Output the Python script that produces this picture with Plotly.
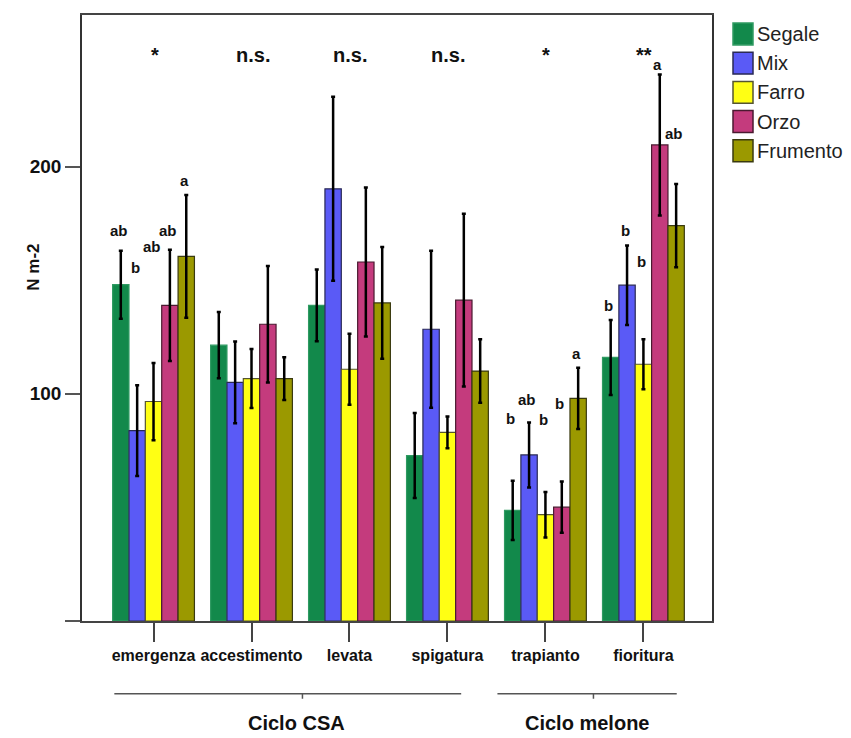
import plotly.graph_objects as go

categories = ["emergenza", "accestimento", "levata", "spigatura", "trapianto", "fioritura"]
series = ["Segale", "Mix", "Farro", "Orzo", "Frumento"]

segale = [148, 121.4, 138.9, 72.8, 48.7, 116]
mix = [83.8, 105, 190.2, 128.4, 73.1, 147.8]
farro = [96.6, 106.7, 110.8, 83, 46.8, 113]
orzo = [138.9, 130.6, 158, 141.2, 50.1, 209.5]
frumento = [160.5, 106.7, 140, 110, 98, 174]

segale_err = [15, 14.6, 15.8, 18.7, 13, 16.5]
mix_err = [20, 18, 40.5, 34.6, 14.3, 17.5]
farro_err = [17, 13, 15.6, 7, 10, 11]
orzo_err = [24.5, 25.6, 32.8, 38, 11.3, 31]
frumento_err = [27, 9.4, 24.6, 14, 13.5, 18.3]

significance = ["*", "n.s.", "n.s.", "n.s.", "*", "**"]

# letters per series for each category ("" = none)
letters = {
    "Segale":   ["ab", "", "", "", "b", "b"],
    "Mix":      ["b", "", "", "", "ab", "b"],
    "Farro":    ["ab", "", "", "", "b", "b"],
    "Orzo":     ["ab", "", "", "", "b", "a"],
    "Frumento": ["a", "", "", "", "a", "ab"],
}
# vertical placement of the letters (value units)
letter_y = {
    "Segale":   [172, 0, 0, 0, 89.3, 139],
    "Mix":      [155.7, 0, 0, 0, 97.4, 172],
    "Farro":    [165, 0, 0, 0, 88.9, 158],
    "Orzo":     [172, 0, 0, 0, 95.7, 245],
    "Frumento": [194, 0, 0, 0, 117.7, 214.6],
}

values = [segale, mix, farro, orzo, frumento]
errors = [segale_err, mix_err, farro_err, orzo_err, frumento_err]
colors = ["#12894b", "#5a5af6", "#ffff14", "#c43b7d", "#9b9900"]
edge = ["#2f9a62", "#2a2a55", "#555530", "#4a1a30", "#3a3a10"]

FONT = "Liberation Sans, Arial, sans-serif"
xs = list(range(len(categories)))

# page has an 8px body margin; figure geometry compensates for it
PAGE_OFF = 8
plot_left, plot_right, plot_top, plot_bottom = 82, 712, 13, 621
fig_w, fig_h = 851 - PAGE_OFF, 738 - PAGE_OFF
plot_w = plot_right - plot_left
plot_h = plot_bottom - plot_top

fig = go.Figure()
for name, v, e, c, ec in zip(series, values, errors, colors, edge):
    fig.add_trace(go.Bar(
        x=xs, y=v, name=name, showlegend=False,
        marker=dict(color=c, line=dict(color=ec, width=1.2)),
        error_y=dict(type="data", array=e, visible=True, color="black",
                     thickness=2.5, width=2),
    ))

bargap = 0.165
bw = (1 - bargap) / len(series)
annotations = []
for i, s in enumerate(significance):
    annotations.append(dict(x=xs[i], y=249, xref="x", yref="y", text="<b>%s</b>" % s,
                            showarrow=False, font=dict(family=FONT, size=20, color="#111"),
                            xshift=1))
for si, name in enumerate(series):
    for ci in range(len(categories)):
        t = letters[name][ci]
        if t:
            annotations.append(dict(
                x=xs[ci] + (si - 2) * bw, y=letter_y[name][ci], xref="x", yref="y",
                text="<b>%s</b>" % t, showarrow=False, xshift=-2,
                font=dict(family=FONT, size=15, color="#111")))

# y-axis title
annotations.append(dict(x=(22 - plot_left) / plot_w, y=(plot_bottom - 266) / plot_h,
                        xref="paper", yref="paper", text="<b>N m-2</b>",
                        textangle=-90, showarrow=False, yanchor="middle",
                        font=dict(family=FONT, size=17, color="#111")))

# group labels under the axis: (name, line start, line end, tick/label position)
groups = [("Ciclo CSA", -0.40, 3.14, 1.52), ("Ciclo melone", 3.51, 5.34, 4.49)]
shapes = []
line_y = (plot_bottom - 694) / plot_h
tick_y = (plot_bottom - 699) / plot_h
text_y = (plot_bottom - 723) / plot_h
for gname, g0, g1, gm in groups:
    shapes.append(dict(type="line", xref="x", yref="paper", x0=g0, x1=g1,
                       y0=line_y, y1=line_y, line=dict(color="#555", width=1.5)))
    shapes.append(dict(type="line", xref="x", yref="paper", x0=gm, x1=gm,
                       y0=line_y, y1=tick_y, line=dict(color="#555", width=1.5)))
    annotations.append(dict(x=gm, y=text_y, xref="x", yref="paper", yanchor="middle",
                            text="<b>%s</b>" % gname, showarrow=False, xshift=-6,
                            font=dict(family=FONT, size=20, color="#111")))

# legend drawn as boxes + labels
for k, (name, c, ec) in enumerate(zip(series, colors, edge)):
    top = 21 + k * 29.3
    y1 = (plot_bottom - top) / plot_h
    y0 = (plot_bottom - top - 22) / plot_h
    shapes.append(dict(type="rect", xref="paper", yref="paper",
                       x0=(733 - plot_left) / plot_w, x1=(753 - plot_left) / plot_w, y0=y0, y1=y1,
                       fillcolor=c, line=dict(color=ec, width=1.5)))
    annotations.append(dict(x=(755 - plot_left) / plot_w, y=(y0 + y1) / 2, xref="paper", yref="paper",
                            xanchor="left", yanchor="middle", text=name, showarrow=False,
                            font=dict(family=FONT, size=20, color="#222")))

fig.update_layout(
    width=fig_w, height=fig_h,
    margin=dict(l=plot_left - PAGE_OFF, r=fig_w - (plot_right - PAGE_OFF),
                t=plot_top - PAGE_OFF, b=fig_h - (plot_bottom - PAGE_OFF)),
    paper_bgcolor="white", plot_bgcolor="white",
    barmode="group", bargap=bargap, bargroupgap=0,
    showlegend=False,
    annotations=annotations, shapes=shapes,
    font=dict(family=FONT, color="#111"),
)
fig.update_xaxes(
    range=[-0.73, 5.70], tickvals=xs, ticktext=["<b>%s</b>" % c for c in categories],
    tickangle=0,
    ticks="outside", ticklen=19, tickwidth=2, tickcolor="#444",
    showline=True, linecolor="#444", linewidth=2, mirror=True,
    showgrid=False, zeroline=False,
    tickfont=dict(family=FONT, size=16, color="#111"),
)
fig.update_yaxes(
    range=[0, 266.7], tickvals=[0, 100, 200], ticktext=["", "<b>100</b>", "<b>200</b>"],
    ticks="outside", ticklen=15, tickwidth=2, tickcolor="#555",
    showline=True, linecolor="#333", linewidth=1.5, mirror=True,
    showgrid=False, zeroline=False,
    tickfont=dict(family=FONT, size=19, color="#111"),
)

fig.write_html("out.html")
